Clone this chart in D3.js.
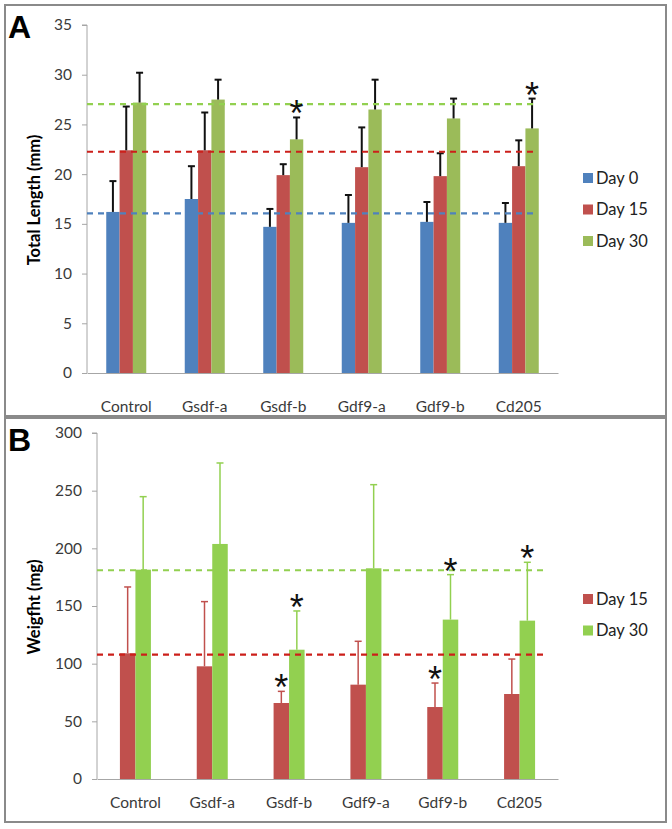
<!DOCTYPE html>
<html>
<head>
<meta charset="utf-8">
<script src="https://cdn.jsdelivr.net/npm/d3@7"></script>
<style>
  body { margin: 0; background: #fff; }
  text { font-family: Lato, "Open Sans", sans-serif; }
</style>
</head>
<body>
<svg id="chart" width="672" height="829"></svg>
<script>
// ---- data ----
const groups = ["Control", "Gsdf-a", "Gsdf-b", "Gdf9-a", "Gdf9-b", "Cd205"];

// Panel A: total length (mm)
const lengthSeries = ["Day 0", "Day 15", "Day 30"];
const lenDay0   = [16.2, 17.5, 14.7, 15.1, 15.2, 15.1];
const lenDay15  = [22.4, 22.4, 19.9, 20.7, 19.8, 20.8];
const lenDay30  = [27.2, 27.5, 23.5, 26.5, 25.6, 24.6];
const lenErr0   = [19.3, 20.8, 16.5, 17.9, 17.2, 17.1];
const lenErr15  = [26.8, 26.2, 21.0, 24.7, 22.1, 23.4];
const lenErr30  = [30.2, 29.5, 25.7, 29.5, 27.6, 27.6];
const lenRef    = [16.05, 22.25, 27.05];
const lenStars  = [["Gsdf-b", "Day 30"], ["Cd205", "Day 30"]];
const lenTicks  = [0, 5, 10, 15, 20, 25, 30, 35];

// Panel B: weight (mg)
const weightSeries = ["Day 15", "Day 30"];
const wDay15   = [109, 97.7, 65.9, 81.8, 62.4, 73.7];
const wDay30   = [181.5, 203.8, 112.1, 182.7, 138.2, 137.3];
const wErr15   = [166.5, 153.8, 76, 119.4, 83.2, 104];
const wErr30   = [244.8, 274, 145.7, 255.2, 177.2, 187.9];
const wRef     = [107.8, 181];
const wStars   = [["Gsdf-b", "Day 15"], ["Gsdf-b", "Day 30"], ["Gdf9-b", "Day 15"], ["Gdf9-b", "Day 30"], ["Cd205", "Day 30"]];
const wTicks   = [0, 50, 100, 150, 200, 250, 300];

const svg = d3.select("#chart");

function panel(opt) {
  const g = svg.append("g");

  // frame
  g.append("rect")
    .attr("x", opt.frame[0]).attr("y", opt.frame[1])
    .attr("width", opt.frame[2]).attr("height", opt.frame[3])
    .attr("fill", "none").attr("stroke", "#8a8a8a").attr("stroke-width", 2);

  g.append("text")
    .attr("x", opt.frame[0] + 3).attr("y", opt.frame[1] + 33)
    .style("font-family", "'Liberation Sans', Arial, sans-serif")
    .attr("font-weight", "bold").attr("font-size", 32)
    .text(opt.letter);

  const x = d3.scaleBand().domain(groups).range([opt.x0, opt.x1]);
  const inner = d3.scaleBand().domain(opt.series).range([0, opt.groupW]);
  const y = d3.scaleLinear().domain([0, opt.ymax]).range([opt.y0, opt.y1]);
  const bx = (gname, s) => x(gname) + x.bandwidth() / 2 - opt.groupW / 2 + inner(s);

  // y axis
  const yAxis = g.append("g")
    .attr("transform", `translate(${opt.x0},0)`)
    .call(d3.axisLeft(y).tickValues(opt.ticks).tickSize(5).tickPadding(10));
  yAxis.selectAll("line, path").attr("stroke", "#a6a6a6");
  yAxis.select(".domain").attr("d", `M-5,${opt.y1}H0V${opt.y0}`);
  yAxis.selectAll("text").attr("font-size", 15.5).attr("fill", "#3a3a3a")
    .style("font-family", "Lato, 'Open Sans', sans-serif");

  // x axis
  const xAxis = g.append("g")
    .attr("transform", `translate(0,${opt.y0})`)
    .call(d3.axisBottom(x).tickSize(0).tickPadding(opt.labelPad));
  xAxis.select(".domain").attr("stroke", "#a6a6a6");
  xAxis.selectAll("text").attr("font-size", 15.5).attr("fill", "#3a3a3a")
    .style("font-family", "Lato, 'Open Sans', sans-serif");

  // bars + error bars
  const rows = [];
  opt.series.forEach((s, i) => {
    groups.forEach((gname, j) => {
      rows.push({ g: gname, s: s, v: opt.values[i][j], e: opt.errors[i][j], c: opt.colors[i] });
    });
  });

  g.selectAll(".bar").data(rows).join("rect")
    .attr("class", "bar")
    .attr("x", d => bx(d.g, d.s))
    .attr("y", d => y(d.v))
    .attr("width", inner.bandwidth())
    .attr("height", d => y(0) - y(d.v))
    .attr("fill", d => d.c);

  const eb = g.selectAll(".err").data(rows).join("g").attr("class", "err")
    .attr("stroke", d => opt.errColor || d.c)
    .attr("stroke-width", opt.errWidth);
  eb.append("line")
    .attr("x1", d => bx(d.g, d.s) + inner.bandwidth() / 2)
    .attr("x2", d => bx(d.g, d.s) + inner.bandwidth() / 2)
    .attr("y1", d => y(d.v)).attr("y2", d => y(d.e));
  eb.append("line")
    .attr("x1", d => bx(d.g, d.s) + inner.bandwidth() / 2 - 3.5)
    .attr("x2", d => bx(d.g, d.s) + inner.bandwidth() / 2 + 3.5)
    .attr("y1", d => y(d.e)).attr("y2", d => y(d.e));

  // reference dashed lines
  g.selectAll(".ref").data(opt.refs).join("line")
    .attr("class", "ref")
    .attr("x1", opt.x0).attr("x2", opt.refEnd)
    .attr("y1", d => y(d)).attr("y2", d => y(d))
    .attr("stroke", (d, i) => opt.refColors[i])
    .attr("stroke-width", 2.2)
    .attr("stroke-dasharray", "6,5");

  // significance stars
  g.selectAll(".star").data(opt.stars).join("text")
    .attr("class", "star")
    .attr("x", d => bx(d[0], d[1]) + inner.bandwidth() / 2)
    .attr("y", d => {
      const r = rows.find(q => q.g === d[0] && q.s === d[1]);
      return y(r.e) + 9;
    })
    .attr("text-anchor", "middle")
    .style("font-family", "'Liberation Sans', Arial, sans-serif")
    .attr("font-size", 36)
    .attr("fill", "#111")
    .text("*");

  // y title
  g.append("text")
    .attr("transform", `translate(${opt.titleX},${opt.titleY}) rotate(-90)`)
    .attr("text-anchor", "middle")
    .attr("font-weight", "bold")
    .attr("font-size", 16.5)
    .text(opt.yTitle);

  // legend
  const lg = g.selectAll(".leg").data(opt.series).join("g")
    .attr("class", "leg")
    .attr("transform", (d, i) => `translate(583,${opt.legY + i * opt.legStep})`);
  lg.append("rect").attr("x", 0).attr("y", -5).attr("width", 10).attr("height", 10)
    .attr("fill", (d, i) => opt.colors[i]);
  lg.append("text").attr("x", 13).attr("dy", "0.35em")
    .attr("font-size", 16.5).attr("fill", "#222")
    .text(d => d);
}

panel({
  letter: "A", frame: [5, 5, 661, 411],
  x0: 87, x1: 558, y0: 373, y1: 25, ymax: 35, ticks: lenTicks,
  series: lengthSeries, groupW: 40,
  values: [lenDay0, lenDay15, lenDay30],
  errors: [lenErr0, lenErr15, lenErr30],
  colors: ["#4f81bd", "#c0504d", "#9bbb59"],
  errColor: "#111", errWidth: 2,
  refs: lenRef, refColors: ["#4f81bd", "#cc1f1a", "#92d050"], refEnd: 538,
  stars: lenStars, labelPad: 28,
  yTitle: "Total Length (mm)", titleX: 40, titleY: 200,
  legY: 178, legStep: 31.5
});

panel({
  letter: "B", frame: [5, 418, 661, 404],
  x0: 97, x1: 558, y0: 779, y1: 433, ymax: 300, ticks: wTicks,
  series: weightSeries, groupW: 31,
  values: [wDay15, wDay30],
  errors: [wErr15, wErr30],
  colors: ["#c0504d", "#92d050"],
  errColor: null, errWidth: 1.5,
  refs: wRef, refColors: ["#cc1f1a", "#92d050"], refEnd: 546,
  stars: wStars, labelPad: 18,
  yTitle: "Weigfht (mg)", titleX: 40, titleY: 607,
  legY: 599, legStep: 31.5
});
</script>
</body>
</html>
